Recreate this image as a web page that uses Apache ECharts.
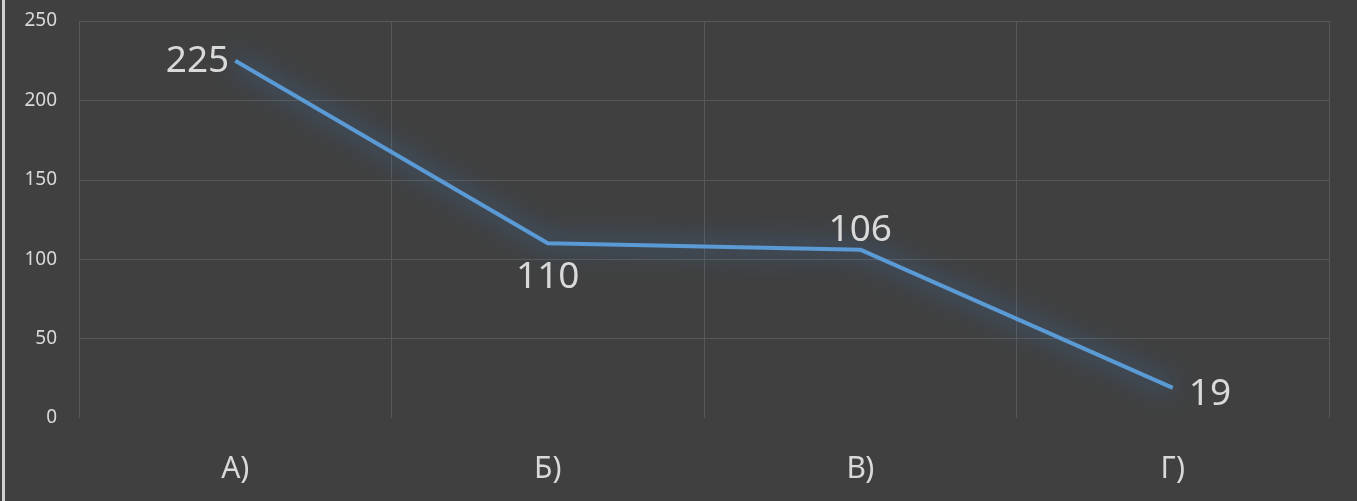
<!DOCTYPE html>
<html>
	<head>
		<meta charset="utf-8">
		<title>chart</title>
		<script src="https://cdn.jsdelivr.net/npm/echarts@6/dist/echarts.min.js"></script>
		<style>
			* {
				margin: 0;
				padding: 0
			}
			html,
			body {
				width: 100%;
				height: 100%;
				background: #404040;
			}
			#main {
				width: 1357px;
				height: 501px;
				box-sizing: border-box;
				border-left: 3px solid #d0d0d0;
				margin-left: 2px;
			}
		</style>
	</head>
	<body>
		<div id="main"></div>
		<script type="text/javascript">
			var categories = ['А)', 'Б)', 'В)', 'Г)'];
			var values = [225, 110, 106, 19];
			var labelSides = ['left', 'bottom', 'top', 'right'];
			// label placement tweaks so text sits like the original
			var labelGaps = [6, 16, 1, 16];
			var labelShift = [[0, 1], [0, 0], [0, 0], [0, 7]];

			var grid = '#585858';
			var chart = echarts.init(document.getElementById('main'));
			chart.setOption({
				backgroundColor: '#404040',
				textStyle: { fontFamily: 'Noto Sans' },
				grid: { left: 74, right: 30, top: 21, bottom: 83 },
				xAxis: {
					type: 'category',
					data: categories,
					boundaryGap: true,
					axisLine: { show: false },
					axisTick: { show: false },
					axisLabel: { color: '#d9d9d9', fontSize: 30, margin: 36 },
					splitLine: { show: true, lineStyle: { color: grid, width: 1 } }
				},
				yAxis: {
					type: 'value',
					min: 0,
					max: 250,
					interval: 50,
					axisLine: { show: false },
					axisTick: { show: false },
					axisLabel: { color: '#d9d9d9', fontSize: 19, margin: 22 },
					splitLine: {
						lineStyle: { color: ['rgba(0,0,0,0)', grid, grid, grid, grid, grid], width: 1 }
					}
				},
				series: [{
					type: 'line',
					data: values.map(function (v, i) {
						return {
							value: v,
							label: { position: labelSides[i], distance: labelGaps[i], offset: labelShift[i] }
						};
					}),
					symbol: 'circle',
					symbolSize: 0,
					showSymbol: true,
					itemStyle: { color: '#5b9bd5' },
					lineStyle: {
						color: '#5b9bd5',
						width: 4,
						shadowColor: 'rgba(60,130,210,1)',
						shadowBlur: 26
					},
					label: {
						show: true,
						color: '#d9d9d9',
						fontSize: 37
					}
				}]
			});
		</script>
	</body>
</html>
